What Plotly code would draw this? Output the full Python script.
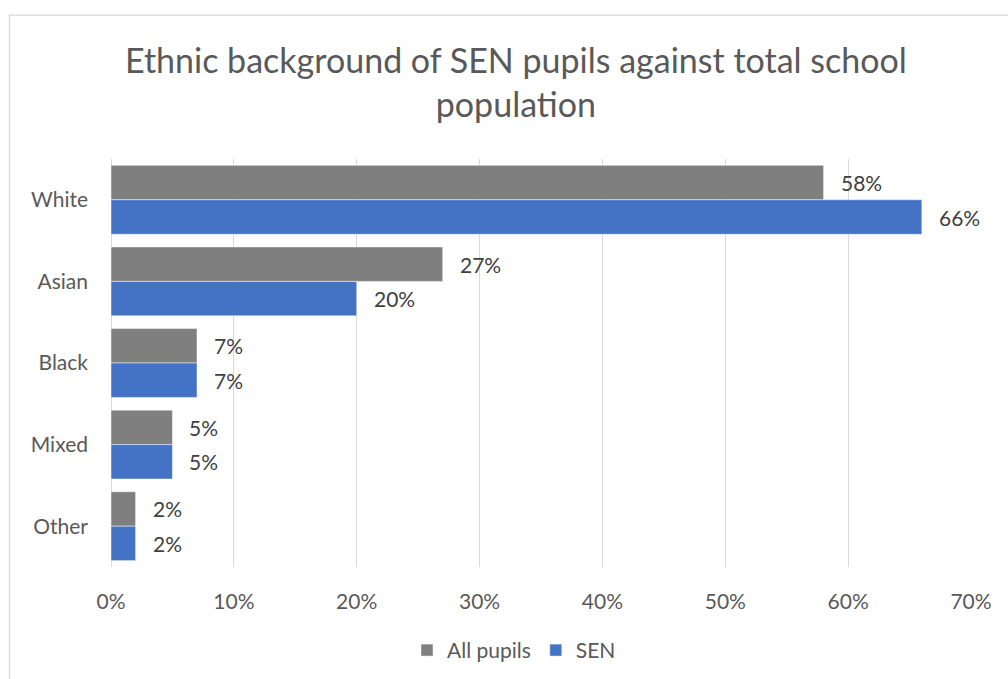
import plotly.graph_objects as go

# Share of pupils by ethnic background
categories = ["White", "Asian", "Black", "Mixed", "Other"]
all_pupils = [0.58, 0.27, 0.07, 0.05, 0.02]
sen = [0.66, 0.20, 0.07, 0.05, 0.02]
x_ticks = [0, 0.1, 0.2, 0.3, 0.4, 0.5, 0.6, 0.7]
x_tick_labels = ["0%", "10%", "20%", "30%", "40%", "50%", "60%", "70%"]

FONT = "Lato, Carlito, Calibri, sans-serif"
GRAY = "#7f7f7f"
BLUE = "#4472c4"
GRID = "#d9d9d9"
TEXT = "#595959"
LABEL = "#404040"

W, H = 1008, 679
L, R, T, B = 111, 37, 158.6, 111.6
pw, ph = W - L - R, H - T - B

fig = go.Figure()
fig.add_trace(go.Bar(
    name="All pupils", y=categories, x=all_pupils, orientation="h",
    marker=dict(color=GRAY, line=dict(color="rgba(255,255,255,0.6)", width=0.8)),
))
fig.add_trace(go.Bar(
    name="SEN", y=categories, x=sen, orientation="h",
    marker=dict(color=BLUE, line=dict(color="rgba(255,255,255,0.6)", width=0.8)),
))

# value labels just right of each bar end
bar_gap = 0.156
half = (1 - bar_gap) / 2
for i, cat in enumerate(categories):
    for vals, off in ((all_pupils, -half / 2), (sen, half / 2)):
        fig.add_annotation(
            x=vals[i], y=i + off, xref="x", yref="y",
            text=f"{round(vals[i] * 100)}%", showarrow=False,
            xanchor="left", yanchor="middle", xshift=15,
            font=dict(family=FONT, size=21, color=LABEL),
        )

# chart title
fig.add_annotation(
    x=(516 - L) / pw, y=1 + (T - 81) / ph, xref="paper", yref="paper",
    text="Ethnic background of SEN pupils against total school<br>population",
    showarrow=False, xanchor="center", yanchor="middle",
    font=dict(family=FONT, size=34, color=TEXT), align="center",
)

# chart-area border
fig.add_shape(
    type="rect", xref="paper", yref="paper",
    x0=(9.5 - L) / pw, x1=(1030 - L) / pw,
    y0=-(H + 20 - T - ph) / ph, y1=1 + (T - 14.5) / ph,
    line=dict(color=GRID, width=1.3), fillcolor="rgba(0,0,0,0)", layer="below",
)

fig.update_layout(
    width=W, height=H,
    margin=dict(l=L, r=R, t=T, b=B, autoexpand=False),
    paper_bgcolor="white", plot_bgcolor="white",
    barmode="group", bargap=bar_gap, bargroupgap=0,
    font=dict(family=FONT, size=21, color=TEXT),
    showlegend=True,
    legend=dict(
        orientation="h", x=(514 - L) / pw, xanchor="center",
        y=-(651 - T - ph) / ph, yanchor="middle",
        font=dict(family=FONT, size=21, color=TEXT),
        itemwidth=30, traceorder="normal",
    ),
)
fig.update_xaxes(
    range=[0, 0.7], tickvals=x_ticks, ticktext=x_tick_labels,
    showgrid=True, gridcolor=GRID, gridwidth=1.3,
    zeroline=True, zerolinecolor=GRID, zerolinewidth=1.3,
    showline=False, ticks="", ticklabelstandoff=20,
    tickfont=dict(family=FONT, size=21, color=TEXT),
)
fig.update_yaxes(
    autorange="reversed", showgrid=False, showline=False, ticks="",
    ticklabelstandoff=22,
    tickfont=dict(family=FONT, size=21, color=TEXT),
)

fig.write_html("out.html")
